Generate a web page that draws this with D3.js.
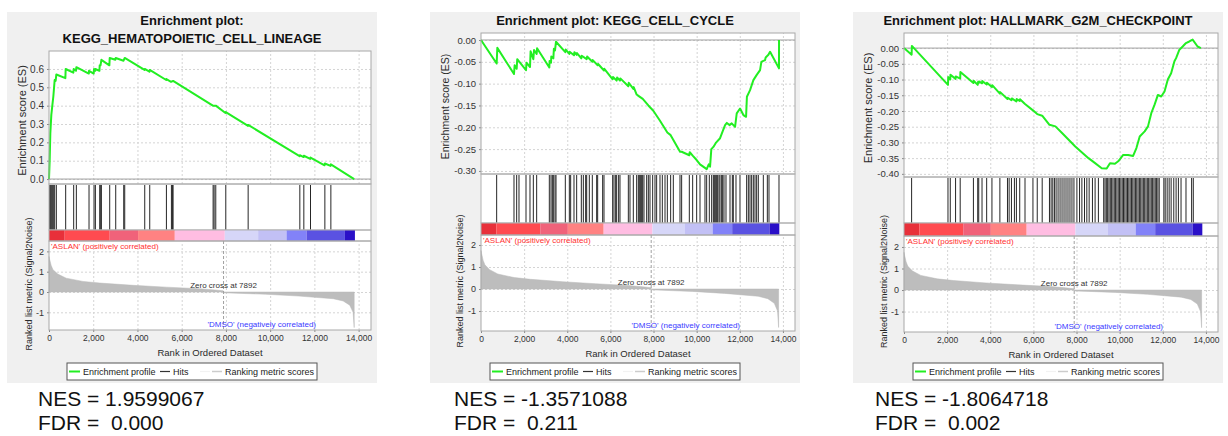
<!DOCTYPE html>
<html>
<head>
<meta charset="utf-8">
<title>GSEA enrichment plots</title>
<script src="https://d3js.org/d3.v7.min.js"></script>
<style>
  * { margin: 0; padding: 0; }
  body { background: #fff; width: 1228px; height: 436px; overflow: hidden; }
  svg { display: block; font-family: "Liberation Sans", Arial, sans-serif; }
  text { fill: #333; }
  text.title { font-size: 13px; font-weight: bold; fill: #111; }
  text.axis-title { font-size: 11px; fill: #2a2a2a; }
  text.note { font-size: 8px; }
  text.stat { font-size: 21px; fill: #111; white-space: pre; }
  .grid line { stroke: #d4d4d4; stroke-dasharray: 2,2; }
  .grid path { stroke-width: 0; }
  .axis path, .axis line { stroke: #888; }
  .axis text { fill: #333; }
  .legend text { font-size: 9px; fill: #222; }
</style>
</head>
<body>
<svg width="1228" height="436"></svg>
<script>
// ---- data ----
const xMax = 14560;                     // rank axis domain end
const xTicks = [0, 2000, 4000, 6000, 8000, 10000, 12000, 14000];
const zeroCross = 7892;

// ranked list metric (Signal2Noise), [rank, value]
const rankedMetric = [[0,1.75],[30,1.6],[100,1.3],[180,1.1],[400,0.88],[780,0.68],[1540,0.52],
  [2300,0.44],[3800,0.33],[5300,0.24],[6800,0.16],[7500,0.1],[7880,0.06],[7892,0],[7900,-0.04],
  [9800,-0.11],[11300,-0.2],[12850,-0.33],[13300,-0.44],[13600,-0.65],[13750,-1.0],[13800,-1.75]];

// colour bar bands (rank edges + fills)
const barEdges = [0, 710, 2746, 4027, 5688, 7950, 9457, 10742, 11647, 13380, 13833];
const barFills = ["#e8303a","#ff4b50","#f0627a","#ff8282","#ffbde2","#d6d6f8","#c2c0f5","#8282f8","#5a52e2","#2a10c8"];

// KEGG_HEMATOPOIETIC_CELL_LINEAGE
const hemaHits = [30,60,105,150,196,256,332,754,1116,1237,1810,2036,2097,2293,2338,2368,2745,3017,
  3379,3424,4329,4555,5309,5535,5581,5611,7421,7466,7541,7994,9005,11342,11523,11825,12474,12745];
const hemaES = [[0,0],[30,0.1],[60,0.25],[105,0.35],[150,0.40],[196,0.45],[256,0.54],[300,0.535],
  [332,0.57],[740,0.55],[754,0.60],[1100,0.58],[1116,0.60],[1220,0.59],[1237,0.61],[1800,0.575],
  [1810,0.59],[2020,0.575],[2036,0.60],[2090,0.59],[2097,0.60],[2280,0.59],[2293,0.62],[2330,0.62],
  [2368,0.65],[2730,0.62],[2745,0.66],[3000,0.65],[3017,0.66],[3370,0.645],[3424,0.66],[4320,0.595],
  [4329,0.60],[4540,0.585],[4555,0.595],[5300,0.54],[5309,0.545],[5520,0.53],[5611,0.535],[7410,0.40],
  [7541,0.40],[7980,0.36],[7994,0.365],[9000,0.29],[9005,0.295],[11330,0.125],[11342,0.13],
  [11510,0.12],[11523,0.127],[11810,0.11],[11825,0.117],[12460,0.075],[12474,0.085],[12730,0.072],
  [12745,0.08],[13800,0]];

// KEGG_CELL_CYCLE
const cycleHits = [726,1530,1654,1762,2087,2272,2427,2581,3168,3246,3308,3354,3431,3478,3910,4096,
  4158,4312,4436,4652,4745,4853,4900,5023,5162,5363,5410,5641,5703,6105,6167,6244,6291,6383,6445,
  6832,6909,7063,7218,7295,7342,7403,7450,7496,7558,7682,7759,7836,7960,8068,8145,8300,8408,8532,
  8640,8794,8918,9227,9304,9660,9815,10000,10155,10386,10464,10587,10696,10773,10819,10866,10927,
  10974,11036,11082,11159,11206,11267,11360,11546,11654,11700,11824,12009,12318,12396,12473,12550,
  12628,12705,12782,12859,13091,13277,13354,13818];
const cycleES = [[0,0],[726,-0.054],[757,-0.018],[1530,-0.078],[1560,-0.058],[1654,-0.066],
  [1680,-0.044],[2087,-0.069],[2110,-0.052],[2272,-0.062],[2300,-0.026],[2427,-0.044],[2460,-0.023],
  [2581,-0.032],[2600,-0.019],[3168,-0.063],[3180,-0.048],[3246,-0.052],[3260,-0.038],[3354,-0.042],
  [3380,-0.02],[3431,-0.024],[3478,-0.004],[3910,-0.028],[3930,-0.022],[4096,-0.032],[4110,-0.027],
  [4312,-0.035],[4330,-0.028],[4436,-0.034],[4450,-0.03],[4652,-0.042],[4670,-0.036],[4900,-0.044],
  [4920,-0.038],[5162,-0.05],[5180,-0.046],[5410,-0.058],[5430,-0.055],[5703,-0.07],[5720,-0.066],
  [6105,-0.09],[6120,-0.085],[6291,-0.093],[6310,-0.086],[6445,-0.093],[6460,-0.088],[6832,-0.106],
  [6850,-0.098],[7063,-0.112],[7080,-0.108],[7218,-0.125],[7300,-0.128],[7500,-0.135],[7760,-0.15],
  [7990,-0.162],[8300,-0.185],[8640,-0.212],[8794,-0.218],[9230,-0.256],[9304,-0.256],[9660,-0.264],
  [9680,-0.257],[9815,-0.265],[10000,-0.275],[10155,-0.285],[10386,-0.293],[10466,-0.296],
  [10560,-0.285],[10621,-0.29],[10680,-0.25],[10776,-0.245],[10900,-0.235],[11085,-0.225],
  [11200,-0.21],[11317,-0.195],[11400,-0.19],[11520,-0.195],[11626,-0.191],[11781,-0.199],
  [11858,-0.168],[12012,-0.157],[12167,-0.172],[12291,-0.176],[12330,-0.13],[12476,-0.115],
  [12630,-0.092],[12785,-0.08],[12940,-0.069],[13000,-0.05],[13172,-0.046],[13200,-0.04],
  [13326,-0.034],[13404,-0.027],[13818,-0.065],[13820,0]];

// HALLMARK_G2M_CHECKPOINT
const g2mHits = [353,2039,2146,2391,2606,3219,3419,3465,3618,3833,4078,4446,4798,4875,4982,5120,5212,
  5366,5611,5979,6178,6408,6745,6822,6899,6975,7052,7144,7236,7328,7420,7512,7604,7696,7788,7880,
  8017,8140,8248,8370,8477,8585,8738,8861,9014,9260,9321,9382,9443,9505,9566,9627,9688,9750,9811,
  9872,9934,9995,10056,10118,10179,10240,10302,10363,10424,10486,10547,10608,10670,10731,10792,
  10854,10915,10976,11038,11099,11160,11222,11283,11344,11406,11467,11528,11590,11651,11712,11774,
  11835,12049,12111,12203,12295,12387,12509,12617,12724,12846,13076,13337,13414];
const g2mES = [[0,0],[353,-0.021],[365,0.007],[2039,-0.117],[2050,-0.092],[2146,-0.1],[2155,-0.085],
  [2391,-0.098],[2400,-0.09],[2606,-0.097],[2615,-0.076],[3219,-0.111],[3230,-0.104],[3419,-0.117],
  [3430,-0.108],[3465,-0.111],[3475,-0.106],[3618,-0.112],[3630,-0.105],[3833,-0.116],[3845,-0.11],
  [4078,-0.124],[4090,-0.118],[4446,-0.145],[4460,-0.14],[4798,-0.162],[4810,-0.158],[4982,-0.166],
  [5000,-0.16],[5212,-0.17],[5225,-0.162],[5366,-0.168],[5380,-0.163],[5611,-0.178],[5979,-0.198],
  [6178,-0.21],[6408,-0.215],[6745,-0.244],[7021,-0.249],[7328,-0.27],[7941,-0.313],[8554,-0.35],
  [8861,-0.366],[9167,-0.382],[9397,-0.383],[9551,-0.366],[9780,-0.368],[9934,-0.36],[10164,-0.34],
  [10394,-0.34],[10624,-0.343],[10777,-0.318],[10930,-0.281],[11160,-0.265],[11314,-0.249],
  [11467,-0.207],[11620,-0.18],[11774,-0.149],[11927,-0.154],[12080,-0.138],[12233,-0.1],
  [12387,-0.08],[12540,-0.042],[12617,-0.032],[12770,-0.005],[12923,0.005],[13076,0.016],
  [13230,0.021],[13383,0.027],[13613,0.005],[13766,0]];

const titles = [["Enrichment plot:", "KEGG_HEMATOPOIETIC_CELL_LINEAGE"],
                ["Enrichment plot: KEGG_CELL_CYCLE"],
                ["Enrichment plot: HALLMARK_G2M_CHECKPOINT"]];
const nesLabels = ["NES = 1.9599067", "NES = -1.3571088", "NES = -1.8064718"];
const fdrLabels = ["FDR =  0.000", "FDR =  0.211", "FDR =  0.002"];
const esTickValues = [d3.range(0, 0.61, 0.1), d3.range(0, -0.301, -0.05), d3.range(0, -0.401, -0.05)];
const rankTickValues = [2, 1, 0, -1];

// ---- layout of the three panels ----
const panels = [
  {bgX: 7,   left: 49,  right: 371,  esTop: 51, esBottom: 184, hitsBottom: 230, barBottom: 241, rankBottom: 330,
   esDomain: [-0.027, 0.698], esFmt: ".1f", esFont: 10, rankDomain: [-1.87, 2.51],
   esLabelX: 22, rankLabelX: 29, esLabelFont: 11, legendX: 67, statX: 38},
  {bgX: 430, left: 481, right: 795,  esTop: 33, esBottom: 174, hitsBottom: 223, barBottom: 235, rankBottom: 331,
   esDomain: [-0.307, 0.016], esFmt: ".2f", esFont: 9.5, rankDomain: [-1.91, 2.455],
   esLabelX: 445, rankLabelX: 460, esLabelFont: 10.5, legendX: 490, statX: 454},
  {bgX: 853, left: 904, right: 1218, esTop: 33, esBottom: 177, hitsBottom: 223, barBottom: 236, rankBottom: 332,
   esDomain: [-0.41, 0.048], esFmt: ".2f", esFont: 9.5, rankDomain: [-1.95, 2.51],
   esLabelX: 868, rankLabelX: 884, esLabelFont: 11, legendX: 913, statX: 875}
];
const hitSets = [hemaHits, cycleHits, g2mHits];
const esSets = [hemaES, cycleES, g2mES];

const svg = d3.select("svg");
const loc = d3.formatLocale({decimal: ".", thousands: ",", grouping: [3], currency: ["", ""], minus: "-"});

function drawPanel(p, i) {
  const g = svg.append("g");
  g.append("rect").attr("x", p.bgX).attr("y", 12).attr("width", 370).attr("height", 371).attr("fill", "#f0f0f0");

  titles[i].forEach((t, k) => {
    g.append("text").attr("class", "title").attr("x", p.bgX + 185).attr("y", 25 + k * 18)
      .attr("text-anchor", "middle").text(t);
  });

  const x = d3.scaleLinear().domain([0, xMax]).range([p.left, p.right]);
  const yEs = d3.scaleLinear().domain(p.esDomain).range([p.esBottom, p.esTop]);
  const yRank = d3.scaleLinear().domain(p.rankDomain).range([p.rankBottom, p.barBottom]);
  const w = p.right - p.left;

  // white plot backgrounds
  g.append("rect").attr("x", p.left).attr("y", p.esTop).attr("width", w)
    .attr("height", p.rankBottom - p.esTop).attr("fill", "#fff");

  // ES grid
  g.append("g").attr("class", "grid").attr("transform", `translate(0,${p.esBottom})`)
    .call(d3.axisBottom(x).tickValues(xTicks.slice(1)).tickSize(-(p.esBottom - p.esTop)).tickFormat(""));
  g.append("g").attr("class", "grid").attr("transform", `translate(${p.left},0)`)
    .call(d3.axisLeft(yEs).tickValues(esTickValues[i]).tickSize(-w).tickFormat(""));

  // zero line of ES
  g.append("line").attr("x1", p.left).attr("x2", p.right).attr("y1", yEs(0)).attr("y2", yEs(0))
    .attr("stroke", "#a0a0a0").attr("stroke-width", 1);

  // ES curve
  const esLine = d3.line().x(d => x(d[0])).y(d => yEs(d[1]));
  g.append("path").attr("d", esLine(esSets[i])).attr("fill", "none")
    .attr("stroke", "#22ee22").attr("stroke-width", 2).attr("stroke-linejoin", "round");

  // ES axis
  const esAxis = g.append("g").attr("class", "axis").attr("transform", `translate(${p.left},0)`)
    .call(d3.axisLeft(yEs).tickValues(esTickValues[i]).tickSize(2).tickPadding(3).tickFormat(loc.format(p.esFmt)));
  esAxis.selectAll("text").style("font-size", p.esFont + "px");
  esAxis.select(".domain").remove();

  g.append("rect").attr("x", p.left).attr("y", p.esTop).attr("width", w).attr("height", p.esBottom - p.esTop)
    .attr("fill", "none").attr("stroke", "#a8a8a8");

  g.append("text").attr("class", "axis-title").style("font-size", p.esLabelFont + "px")
    .attr("transform", `translate(${p.esLabelX},${(p.esTop + p.esBottom) / 2 + 3}) rotate(-90)`)
    .attr("text-anchor", "middle").attr("dy", "0.35em").text("Enrichment score (ES)");

  // hits
  g.append("g").selectAll("line").data(hitSets[i]).enter().append("line")
    .attr("x1", d => x(d)).attr("x2", d => x(d))
    .attr("y1", p.esBottom + 1).attr("y2", p.hitsBottom)
    .attr("stroke", "#262626").attr("stroke-width", 1);
  g.append("rect").attr("x", p.left).attr("y", p.esBottom).attr("width", w).attr("height", p.hitsBottom - p.esBottom)
    .attr("fill", "none").attr("stroke", "#b0b0b0");

  // colour bar
  g.append("g").selectAll("rect").data(barFills).enter().append("rect")
    .attr("x", (d, k) => x(barEdges[k])).attr("width", (d, k) => x(barEdges[k + 1]) - x(barEdges[k]))
    .attr("y", p.hitsBottom).attr("height", p.barBottom - p.hitsBottom).attr("fill", d => d);
  g.append("rect").attr("x", p.left).attr("y", p.hitsBottom).attr("width", w).attr("height", p.barBottom - p.hitsBottom)
    .attr("fill", "none").attr("stroke", "#b0b0b0");

  // ranked metric grid
  g.append("g").attr("class", "grid").attr("transform", `translate(0,${p.rankBottom})`)
    .call(d3.axisBottom(x).tickValues(xTicks.slice(1)).tickSize(-(p.rankBottom - p.barBottom)).tickFormat(""));
  g.append("g").attr("class", "grid").attr("transform", `translate(${p.left},0)`)
    .call(d3.axisLeft(yRank).tickValues(rankTickValues).tickSize(-w).tickFormat(""));

  const area = d3.area().x(d => x(d[0])).y0(yRank(0)).y1(d => yRank(d[1]));
  g.append("path").attr("d", area(rankedMetric)).attr("fill", "#bdbdbd").attr("stroke", "#b8b8b8").attr("stroke-width", 0.5);

  // zero cross marker
  g.append("line").attr("x1", x(zeroCross)).attr("x2", x(zeroCross))
    .attr("y1", p.barBottom).attr("y2", p.rankBottom)
    .attr("stroke", "#a0a0a0").attr("stroke-dasharray", "3,2");
  g.append("text").attr("class", "note").attr("x", x(zeroCross)).attr("y", yRank(0) - 4)
    .attr("text-anchor", "middle").text("Zero cross at " + zeroCross);

  g.append("text").attr("class", "note").attr("x", p.left + 2).attr("y", p.barBottom + 8)
    .style("fill", "#ff3030").text("'ASLAN' (positively correlated)");
  g.append("text").attr("class", "note").attr("x", p.right - 55).attr("y", p.rankBottom - 3)
    .attr("text-anchor", "end").style("fill", "#3a3aff").text("'DMSO' (negatively correlated)");

  const rAxis = g.append("g").attr("class", "axis").attr("transform", `translate(${p.left},0)`)
    .call(d3.axisLeft(yRank).tickValues(rankTickValues).tickSize(2).tickPadding(3).tickFormat(loc.format("d")));
  rAxis.selectAll("text").style("font-size", "9px");
  rAxis.select(".domain").remove();

  const xAxis = g.append("g").attr("class", "axis").attr("transform", `translate(0,${p.rankBottom})`)
    .call(d3.axisBottom(x).tickValues(xTicks).tickSize(2).tickPadding(3).tickFormat(loc.format(",")));
  xAxis.selectAll("text").style("font-size", "8.5px");
  xAxis.select(".domain").remove();

  g.append("rect").attr("x", p.left).attr("y", p.barBottom).attr("width", w).attr("height", p.rankBottom - p.barBottom)
    .attr("fill", "none").attr("stroke", "#a8a8a8");

  g.append("text").attr("class", "axis-title").style("font-size", "9.5px")
    .attr("x", (p.left + p.right) / 2).attr("y", p.rankBottom + 26).attr("text-anchor", "middle")
    .text("Rank in Ordered Dataset");
  g.append("text").attr("class", "axis-title").style("font-size", "9px")
    .attr("transform", `translate(${p.rankLabelX},${(p.hitsBottom + p.rankBottom) / 2 + 4}) rotate(-90)`)
    .attr("text-anchor", "middle").attr("dy", "0.35em").text("Ranked list metric (Signal2Noise)");

  // legend
  const lg = g.append("g").attr("class", "legend").attr("transform", `translate(${p.legendX},363)`);
  lg.append("rect").attr("width", 250).attr("height", 17).attr("fill", "#fff").attr("stroke", "#555");
  const items = [
    {x1: 2, x2: 13, color: "#22ee22", w: 2, label: "Enrichment profile", tx: 16},
    {x1: 93, x2: 103, color: "#333", w: 1.2, label: "Hits", tx: 106},
    {x1: 133, x2: 143, color: "#f2f2f2", w: 1.2, label: "", tx: 0},
    {x1: 145, x2: 155, color: "#cccccc", w: 1.5, label: "Ranking metric scores", tx: 158}
  ];
  items.forEach(it => {
    lg.append("line").attr("x1", it.x1).attr("x2", it.x2).attr("y1", 8.5).attr("y2", 8.5)
      .attr("stroke", it.color).attr("stroke-width", it.w);
    if (it.label) lg.append("text").attr("x", it.tx).attr("y", 12).text(it.label);
  });

  // NES / FDR
  svg.append("text").attr("class", "stat").attr("x", p.statX).attr("y", 406).text(nesLabels[i]);
  svg.append("text").attr("class", "stat").attr("x", p.statX).attr("y", 430).text(fdrLabels[i]);
}

panels.forEach(drawPanel);
</script>
</body>
</html>
